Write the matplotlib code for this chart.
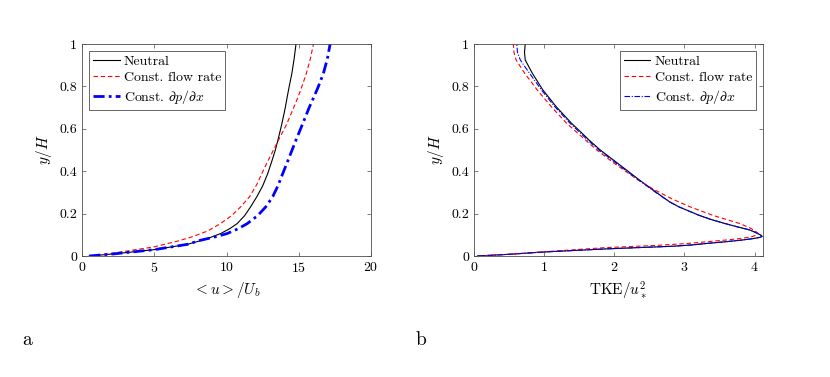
import matplotlib
matplotlib.use('Agg')
import matplotlib.pyplot as plt

plt.rcParams['font.family'] = 'serif'
plt.rcParams['font.serif'] = ['cmr10']
plt.rcParams['mathtext.fontset'] = 'cm'
plt.rcParams['axes.formatter.use_mathtext'] = True
plt.rcParams['axes.unicode_minus'] = False

# panel a: mean velocity profiles <u>/U_b vs y/H
y_u_neutral = [0, 0.01, 0.03, 0.055, 0.08, 0.106, 0.13, 0.153, 0.19, 0.232, 0.28, 0.33,
               0.39, 0.45, 0.5, 0.547, 0.62, 0.7, 0.75, 0.8, 0.86, 0.93, 1.0]
u_neutral = [0.5, 2.2, 5.0, 7.3, 8.6, 9.6, 10.25, 10.74, 11.25, 11.67, 12.1, 12.5,
             12.86, 13.15, 13.38, 13.56, 13.82, 14.07, 14.2, 14.34, 14.52, 14.68, 14.81]

y_u_flow = [0, 0.01, 0.043, 0.07, 0.09, 0.118, 0.153, 0.19, 0.232, 0.28, 0.34, 0.39,
            0.45, 0.5, 0.547, 0.62, 0.7, 0.75, 0.8, 0.86, 0.93, 1.0]
u_flow = [0.5, 1.8, 5.0, 6.6, 7.6, 8.7, 9.58, 10.35, 10.98, 11.6, 12.12, 12.45,
          12.88, 13.25, 13.6, 14.15, 14.65, 14.95, 15.22, 15.52, 15.8, 16.02]

y_u_dpdx = [0, 0.01, 0.03, 0.055, 0.074, 0.09, 0.106, 0.13, 0.153, 0.19, 0.232, 0.28,
            0.33, 0.39, 0.45, 0.5, 0.547, 0.62, 0.7, 0.75, 0.8, 0.86, 0.93, 1.0]
u_dpdx = [0.5, 2.2, 5.0, 7.3, 8.18, 9.2, 10.05, 10.85, 11.44, 12.15, 12.72, 13.2,
          13.55, 13.9, 14.25, 14.54, 14.81, 15.25, 15.72, 16.05, 16.36, 16.7, 16.98, 17.17]

# panel b: TKE/u*^2 vs y/H
y_k_neutral = [0, 0.008, 0.019, 0.033, 0.04, 0.046, 0.052, 0.059, 0.066, 0.074, 0.082,
               0.088, 0.093, 0.1, 0.11, 0.122, 0.137, 0.153, 0.172, 0.193, 0.232, 0.255,
               0.3, 0.358, 0.437, 0.5, 0.547, 0.595, 0.626, 0.705, 0.784, 0.863, 0.9,
               0.925, 0.96, 1.0]
k_neutral = [0.05, 0.5, 1.0, 1.85, 2.37, 2.84, 3.1, 3.31, 3.55, 3.79, 3.98,
             4.08, 4.11, 4.08, 4.02, 3.94, 3.76, 3.58, 3.38, 3.2, 2.92, 2.79,
             2.6, 2.36, 2.05, 1.8, 1.64, 1.49, 1.39, 1.17, 0.98, 0.83, 0.77,
             0.73, 0.72, 0.73]

y_k_flow = [0, 0.01, 0.02, 0.039, 0.05, 0.058, 0.067, 0.075, 0.082, 0.09, 0.1, 0.106,
            0.115, 0.13, 0.153, 0.19, 0.232, 0.27, 0.311, 0.358, 0.437, 0.5, 0.547,
            0.626, 0.705, 0.784, 0.863, 0.925, 0.96, 1.0]
k_flow = [0.05, 0.6, 1.0, 1.85, 2.6, 3.0, 3.31, 3.58, 3.79, 3.95, 4.04, 4.05,
          4.02, 3.95, 3.79, 3.42, 3.08, 2.82, 2.58, 2.34, 2.0, 1.75, 1.59,
          1.32, 1.1, 0.9, 0.72, 0.6, 0.57, 0.56]

y_k_dpdx = y_k_neutral
k_dpdx = [0.05, 0.5, 1.0, 1.85, 2.37, 2.84, 3.1, 3.31, 3.55, 3.79, 3.98,
          4.08, 4.11, 4.08, 4.02, 3.94, 3.76, 3.58, 3.38, 3.2, 2.92, 2.79,
          2.59, 2.35, 2.03, 1.78, 1.62, 1.47, 1.37, 1.15, 0.96, 0.79, 0.71,
          0.66, 0.62, 0.61]

labels = ['Neutral', 'Const. flow rate', r'Const. $\partial p/\partial x$']

fig = plt.figure(figsize=(8.3, 3.77), dpi=100)
ax1 = fig.add_axes([82 / 830, 1 - 256 / 377, 289 / 830, 212 / 377])
ax2 = fig.add_axes([474 / 830, 1 - 256 / 377, 289 / 830, 212 / 377])

ax1.plot(u_neutral, y_u_neutral, color='k', lw=0.8, label=labels[0])
ax1.plot(u_flow, y_u_flow, color='r', lw=0.8, ls=(0, (4, 2.5)), label=labels[1])
ax1.plot(u_dpdx, y_u_dpdx, color='b', lw=2.0, ls=(0, (4, 1.5, 1, 1.5)), label=labels[2])

ax2.plot(k_neutral, y_k_neutral, color='k', lw=0.8, label=labels[0])
ax2.plot(k_flow, y_k_flow, color='r', lw=0.8, ls=(0, (4, 2.5)), label=labels[1])
ax2.plot(k_dpdx, y_k_dpdx, color='b', lw=0.8, ls=(0, (5, 1.5, 1, 1.5)), label=labels[2])

ax1.set_xlim(0, 20)
ax1.set_xticks([0, 5, 10, 15, 20])
ax2.set_xlim(0, 4.12)
ax2.set_xticks([0, 1, 2, 3, 4])

for ax in (ax1, ax2):
    ax.set_ylim(0, 1)
    ax.set_yticks([0, 0.2, 0.4, 0.6, 0.8, 1])
    ax.set_yticklabels(['0', '0.2', '0.4', '0.6', '0.8', '1'])
    ax.tick_params(direction='in', top=True, right=True, labelsize=10,
                   length=3, width=0.5, color='0.3')
    for s in ax.spines.values():
        s.set_color('0.3')
        s.set_linewidth(0.6)
    ax.set_ylabel('$y/H$', fontsize=11)

ax1.set_xlabel(r'$<u>/U_b$', fontsize=11)
ax2.set_xlabel(r'$\mathrm{TKE}/u_*^2$', fontsize=11)

leg1 = ax1.legend(loc='upper left', fontsize=10, fancybox=False, framealpha=1,
                  edgecolor='0.3', handlelength=1.9, labelspacing=0.25,
                  borderpad=0.3, handletextpad=0.3, borderaxespad=0.5)
leg2 = ax2.legend(loc='upper right', fontsize=10, fancybox=False, framealpha=1,
                  edgecolor='0.3', handlelength=1.9, labelspacing=0.25,
                  borderpad=0.3, handletextpad=0.3, borderaxespad=0.5)
for leg in (leg1, leg2):
    leg.get_frame().set_linewidth(0.6)

fig.text(22 / 830, 1 - 340 / 377, 'a', fontsize=14, va='center')
fig.text(416 / 830, 1 - 340 / 377, 'b', fontsize=14, va='center')

fig.savefig('out.png', dpi=100)
